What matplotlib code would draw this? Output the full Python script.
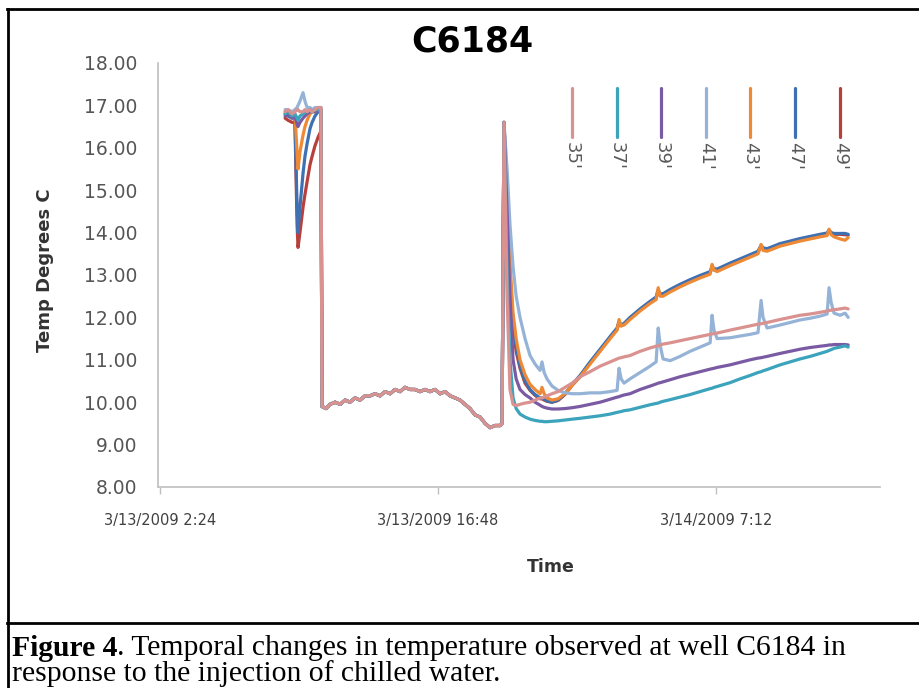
import matplotlib
matplotlib.use("Agg")
import matplotlib.pyplot as plt
from matplotlib.lines import Line2D

# ---------------- data (hours since 3/13/2009 00:00, temperature C) ----------------
series_names = ["35'", "37'", "39'", "41'", "43'", "47'", "49'"]
series_colors = ["#D9928F", "#3CA3BC", "#7A5BA3", "#95B3D7", "#EE8A35", "#3E70B2", "#B8403C"]

tick_hours = [2.4, 16.8, 31.2]
tick_labels = ["3/13/2009 2:24", "3/13/2009 16:48", "3/14/2009 7:12"]
y_ticks = [8, 9, 10, 11, 12, 13, 14, 15, 16, 17, 18]

# initial (pre-drop) segment
init_hours = [8.88, 9.03, 9.24, 9.39, 9.50, 9.55, 9.65, 9.81, 9.91, 10.02, 10.17, 10.28, 10.43, 10.59, 10.69, 10.74]
init_35 = [16.85, 16.9, 16.8, 16.85, 16.9, 16.9, 16.85, 16.85, 16.9, 16.85, 16.9, 16.85, 16.9, 16.95, 16.95, 16.95]
init_37 = [16.8, 16.85, 16.75, 16.8, 16.7, 16.65, 16.75, 16.8, 16.85, 16.85, 16.9, 16.85, 16.9, 16.9, 16.9, 16.9]
init_39 = [16.75, 16.8, 16.7, 16.75, 16.55, 16.5, 16.6, 16.7, 16.75, 16.8, 16.85, 16.85, 16.85, 16.9, 16.9, 16.9]
init_41 = [16.9, 16.9, 16.85, 16.9, 16.95, 17.0, 17.1, 17.3, 17.1, 16.95, 16.95, 16.9, 16.95, 16.95, 16.95, 16.95]
init_43 = [16.85, 16.8, 16.75, 16.8, 15.9, 15.5, 15.9, 16.3, 16.5, 16.65, 16.8, 16.85, 16.85, 16.9, 16.9, 16.9]
init_47 = [16.8, 16.75, 16.7, 16.7, 14.6, 14.0, 14.6, 15.4, 15.8, 16.1, 16.45, 16.6, 16.75, 16.85, 16.85, 16.85]
init_49 = [16.7, 16.65, 16.6, 16.6, 14.2, 13.65, 14.0, 14.6, 14.9, 15.2, 15.6, 15.8, 16.05, 16.25, 16.35, 16.4]

# plateau segment (shared by all depths)
plat_hours = [10.79, 11.00, 11.21, 11.47, 11.73, 11.99, 12.24, 12.50, 12.76, 13.02, 13.28, 13.54, 13.80,
              14.06, 14.32, 14.58, 14.84, 15.09, 15.35, 15.61, 15.87, 16.13, 16.39, 16.65, 16.91, 17.17,
              17.43, 17.69, 17.94, 18.20, 18.46, 18.72, 18.98, 19.24, 19.50, 19.76, 20.02, 20.12]
plat_temps = [9.9, 9.85, 9.95, 10.0, 9.95, 10.05, 10.0, 10.1, 10.05, 10.15, 10.15, 10.2, 10.15,
              10.25, 10.2, 10.3, 10.25, 10.35, 10.3, 10.3, 10.25, 10.3, 10.25, 10.3, 10.2, 10.25,
              10.15, 10.1, 10.05, 9.95, 9.85, 9.7, 9.65, 9.5, 9.4, 9.45, 9.45, 9.5]

# post-injection segment
post_hours = [20.22, 20.38, 20.53, 20.69, 20.85, 21.05, 21.31, 21.57, 21.83, 22.09, 22.19, 22.30, 22.45,
              22.71, 23.02, 23.38, 23.75, 24.16, 24.68, 25.20, 25.72, 26.08, 26.18, 26.29, 26.44, 26.75,
              27.27, 27.79, 28.10, 28.21, 28.31, 28.46, 28.83, 29.34, 29.86, 30.38, 30.90, 31.00, 31.10,
              31.26, 31.93, 32.45, 32.97, 33.38, 33.54, 33.64, 33.85, 34.52, 35.04, 35.56, 36.08, 36.60,
              36.96, 37.06, 37.17, 37.32, 37.63, 37.89, 38.05]
post_35 = [16.6, 12.5, 10.3, 9.95, 9.92, 9.95, 9.98, 10.0, 10.05, 10.1, 10.1, 10.12, 10.15, 10.2, 10.25,
           10.35, 10.45, 10.6, 10.72, 10.85, 10.95, 11.02, 11.04, 11.05, 11.07, 11.1, 11.2, 11.28, 11.32,
           11.33, 11.35, 11.37, 11.4, 11.45, 11.5, 11.55, 11.6, 11.61, 11.62, 11.63, 11.7, 11.75, 11.8,
           11.84, 11.85, 11.86, 11.88, 11.95, 12.0, 12.05, 12.08, 12.12, 12.15, 12.16, 12.17, 12.18, 12.2,
           12.22, 12.2]
post_37 = [16.6, 13.0, 11.0, 10.1, 9.85, 9.72, 9.65, 9.6, 9.57, 9.55, 9.55, 9.54, 9.54, 9.55, 9.56,
           9.58, 9.6, 9.62, 9.65, 9.68, 9.72, 9.76, 9.77, 9.78, 9.8, 9.82, 9.88, 9.94, 9.97, 9.98, 10.0,
           10.02, 10.06, 10.12, 10.18, 10.25, 10.32, 10.33, 10.35, 10.37, 10.46, 10.55, 10.63, 10.7, 10.72,
           10.74, 10.77, 10.88, 10.95, 11.02, 11.08, 11.15, 11.2, 11.22, 11.24, 11.27, 11.3, 11.33, 11.3]
post_39 = [16.6, 14.5, 12.5, 11.0, 10.55, 10.3, 10.18, 10.1, 10.0, 9.93, 9.9, 9.88, 9.86, 9.84, 9.84,
           9.85, 9.87, 9.9, 9.95, 10.0, 10.07, 10.12, 10.13, 10.15, 10.17, 10.2, 10.3, 10.38, 10.43,
           10.45, 10.46, 10.48, 10.53, 10.6, 10.66, 10.72, 10.78, 10.79, 10.8, 10.82, 10.88, 10.94, 11.0,
           11.04, 11.05, 11.06, 11.08, 11.15, 11.2, 11.25, 11.29, 11.32, 11.34, 11.35, 11.35, 11.36,
           11.36, 11.36, 11.35]
post_41 = [16.6, 15.5, 14.2, 13.2, 12.5, 12.0, 11.5, 11.1, 10.9, 10.75, 10.95, 10.7, 10.55, 10.38, 10.28,
           10.22, 10.2, 10.2, 10.22, 10.22, 10.25, 10.28, 10.8, 10.55, 10.45, 10.55, 10.7, 10.85, 10.95,
           11.75, 11.35, 11.02, 10.98, 11.08, 11.2, 11.3, 11.4, 12.05, 11.7, 11.5, 11.52, 11.56, 11.6,
           11.64, 12.4, 12.0, 11.75, 11.82, 11.88, 11.94, 11.98, 12.03, 12.08, 12.7, 12.35, 12.1, 12.05,
           12.1, 12.0]
post_43 = [16.6, 15.0, 13.3, 12.1, 11.5, 11.0, 10.65, 10.42, 10.3, 10.2, 10.35, 10.2, 10.1, 10.05, 10.08,
           10.2, 10.4, 10.6, 10.9, 11.2, 11.5, 11.7, 11.95, 11.8, 11.82, 11.95, 12.15, 12.33, 12.42, 12.7,
           12.5, 12.5, 12.6, 12.72, 12.83, 12.93, 13.02, 13.25, 13.12, 13.08, 13.22, 13.32, 13.42, 13.5,
           13.72, 13.58, 13.56, 13.68, 13.74, 13.8, 13.85, 13.9, 13.93, 14.08, 13.95, 13.9, 13.85, 13.82,
           13.88]
post_47 = [16.6, 14.8, 13.0, 11.9, 11.3, 10.85, 10.5, 10.3, 10.18, 10.1, 10.1, 10.07, 10.03, 10.0, 10.05,
           10.2, 10.42, 10.63, 10.95, 11.25, 11.55, 11.75, 11.9, 11.82, 11.86, 12.0, 12.2, 12.38, 12.48,
           12.65, 12.55, 12.56, 12.66, 12.78, 12.89, 12.99, 13.08, 13.2, 13.15, 13.14, 13.28, 13.38, 13.48,
           13.56, 13.7, 13.64, 13.62, 13.74, 13.8, 13.86, 13.91, 13.96, 13.99, 14.06, 14.0, 13.98, 13.98,
           13.98, 13.96]
post_49 = [16.6, 14.6, 12.8, 11.8, 11.2, 10.8, 10.45, 10.28, 10.16, 10.08, 10.08, 10.05, 10.02, 10.0, 10.04,
           10.18, 10.4, 10.6, 10.92, 11.22, 11.52, 11.72, 11.88, 11.8, 11.84, 11.98, 12.18, 12.36, 12.46,
           12.62, 12.52, 12.54, 12.64, 12.76, 12.87, 12.97, 13.06, 13.18, 13.12, 13.12, 13.26, 13.36, 13.46,
           13.54, 13.68, 13.62, 13.6, 13.72, 13.78, 13.84, 13.89, 13.94, 13.97, 14.04, 13.98, 13.96, 13.96,
           13.95, 13.94]

init_vals = [init_35, init_37, init_39, init_41, init_43, init_47, init_49]
post_vals = [post_35, post_37, post_39, post_41, post_43, post_47, post_49]

# ---------------- figure ----------------
W, H = 920, 688
fig = plt.figure(figsize=(W / 100, H / 100), dpi=100)
fig.patch.set_facecolor("white")


def fx(px):
    return px / W


def fy(py):
    return 1 - py / H


ax = fig.add_axes([fx(158), fy(487), fx(880) - fx(158), fy(63) - fy(487)])
hours_all = init_hours + plat_hours + post_hours
order = list(range(len(series_names)))[::-1]
for i in order:
    temps = init_vals[i] + plat_temps + post_vals[i]
    ax.plot(hours_all, temps, color=series_colors[i], lw=2.3,
            solid_joinstyle="round", solid_capstyle="round", zorder=2 + (len(order) - i))

ax.set_xlim(2.296, 39.7)
ax.set_ylim(8, 18)
ax.set_yticks(y_ticks)
ax.set_yticklabels([f"{v:.2f}" for v in y_ticks], fontsize=13.5, color="#555555")
ax.set_xticks(tick_hours)
ax.set_xticklabels(tick_labels, fontsize=10.5, color="#404040")
ax.tick_params(axis="y", length=0, pad=15)
ax.tick_params(axis="x", length=5, color="#BFBFBF", width=1, pad=14)
for s in ["top", "right"]:
    ax.spines[s].set_visible(False)
for s in ["left", "bottom"]:
    ax.spines[s].set_color("#BFBFBF")
    ax.spines[s].set_linewidth(1.2)
ax.set_facecolor("none")

# title and axis titles
fig.text(fx(472), fy(42), "C6184", ha="center", va="center", fontsize=25,
         fontweight="bold", color="black")
fig.text(fx(45), fy(270), "Temp Degrees C", ha="center", va="center", rotation=90,
         fontsize=13, fontweight="bold", color="#333333")
fig.text(fx(551), fy(567), "Time", ha="center", va="center", fontsize=12.5,
         fontweight="bold", color="#333333")

# legend (vertical samples with rotated labels)
leg_x0, leg_dx = 572, 44.6
for i, name in enumerate(series_names):
    lx = leg_x0 + i * leg_dx
    fig.add_artist(Line2D([fx(lx), fx(lx)], [fy(88), fy(137)], transform=fig.transFigure,
                          color=series_colors[i], lw=2.3, solid_capstyle="round"))
    fig.text(fx(lx), fy(142), name, rotation=270, ha="center", va="top",
             fontsize=13, color="#595959")

# frame
lw_frame = 2.0
fig.add_artist(Line2D([fx(8), fx(8)], [fy(9), fy(690)], transform=fig.transFigure,
                      color="black", lw=lw_frame))
fig.add_artist(Line2D([fx(7), fx(925)], [fy(9), fy(9)], transform=fig.transFigure,
                      color="black", lw=lw_frame))
fig.add_artist(Line2D([fx(7), fx(925)], [fy(623), fy(623)], transform=fig.transFigure,
                      color="black", lw=lw_frame))

# caption
cap_size = 21.3
t1 = fig.text(fx(12), fy(648), "Figure 4", ha="left", va="center", fontsize=cap_size,
              fontweight="bold", family="Liberation Serif", color="black")
fig.canvas.draw()
bb = t1.get_window_extent(renderer=fig.canvas.get_renderer())
fig.text(bb.x1 / W, fy(648), ". Temporal changes in temperature observed at well C6184 in",
         ha="left", va="center", fontsize=cap_size, family="Liberation Serif", color="black")
fig.text(fx(12), fy(674), "response to the injection of chilled water.", ha="left", va="center",
         fontsize=cap_size, family="Liberation Serif", color="black")

fig.savefig("out.png", dpi=100)
